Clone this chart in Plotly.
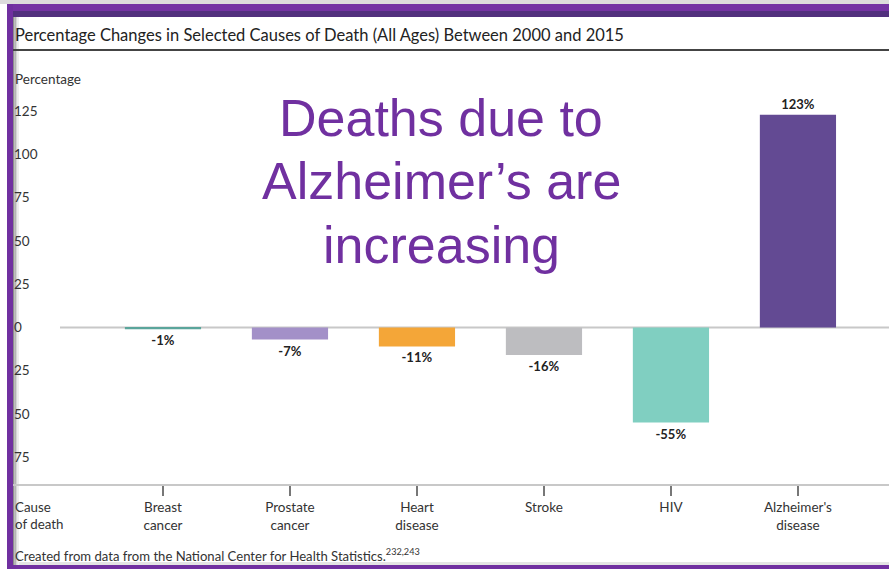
import plotly.graph_objects as go

# Data
causes = ["Breast<br>cancer", "Prostate<br>cancer", "Heart<br>disease", "Stroke", "HIV", "Alzheimer's<br>disease"]
pct_change = [-1, -7, -11, -16, -55, 123]
bar_colors = ["#5aa59b", "#a390c8", "#f4a638", "#bdbdc0", "#80cfc1", "#634a93"]
y_tick_vals = [125, 100, 75, 50, 25, 0, -25, -50, -75]
y_tick_text = ["125", "100", "75", "50", "25", "0", "25", "50", "75"]

W, H = 889, 569
ML, MR, MT, MB = 13, 0, 60, 85
PW, PH = W - ML - MR, H - MT - MB


def px_x(px):
    return (px - ML) / PW


def px_y(py):
    return (H - MB - py) / PH


FONT = "Lato, 'Open Sans', sans-serif"

fig = go.Figure()
fig.add_trace(go.Bar(
    x=causes,
    y=pct_change,
    marker=dict(color=bar_colors, line=dict(width=0)),
    width=0.6,
    text=[f"{v}%" for v in pct_change],
    textposition="outside",
    textfont=dict(family=FONT, size=13, color="#222222", weight="bold"),
    cliponaxis=False,
    hoverinfo="skip",
))

shapes = [
    # zero line
    dict(type="line", xref="paper", yref="y", x0=px_x(60), x1=1, y0=0, y1=0,
         line=dict(color="#c8c8c8", width=2), layer="below"),
    # rule under the title
    dict(type="line", xref="paper", yref="paper", x0=0, x1=1, y0=px_y(50), y1=px_y(50),
         line=dict(color="#444444", width=2), layer="above"),
    # top shadow
    dict(type="rect", xref="paper", yref="paper", x0=px_x(0), x1=1, y0=px_y(0), y1=px_y(4),
         fillcolor="#dcdcdc", line=dict(width=0), layer="above"),
    # top purple band
    dict(type="rect", xref="paper", yref="paper", x0=px_x(7), x1=1, y0=px_y(4), y1=px_y(11),
         fillcolor="#7433a3", line=dict(width=0), layer="above"),
    dict(type="rect", xref="paper", yref="paper", x0=px_x(7), x1=1, y0=px_y(11), y1=px_y(17),
         fillcolor="#52307e", line=dict(width=0), layer="above"),
    # bottom purple band
    dict(type="rect", xref="paper", yref="paper", x0=px_x(7), x1=1, y0=px_y(565), y1=px_y(569),
         fillcolor="#7030a0", line=dict(width=0), layer="above"),
    dict(type="rect", xref="paper", yref="paper", x0=px_x(13), x1=1, y0=px_y(562), y1=px_y(565),
         fillcolor="#e4e4e4", line=dict(width=0), layer="below"),
]
# soft shadow to the right of the left border
for x0, x1, c in [(13, 14.5, "#8e8e8e"), (14.5, 16, "#b4b4b4"), (16, 17.5, "#d6d6d6"), (17.5, 19, "#eeeeee")]:
    shapes.append(dict(type="rect", xref="paper", yref="paper", x0=px_x(x0), x1=px_x(x1),
                       y0=px_y(17), y1=px_y(565), fillcolor=c, line=dict(width=0), layer="below"))
# left purple border
shapes.append(dict(type="rect", xref="paper", yref="paper", x0=px_x(7), x1=px_x(13),
                   y0=px_y(4), y1=px_y(569), fillcolor="#7030a0", line=dict(width=0), layer="above"))

annotations = [
    dict(text="Percentage Changes in Selected Causes of Death (All Ages) Between 2000 and 2015",
         xref="paper", yref="paper", x=0, y=px_y(35), xanchor="left", yanchor="middle",
         showarrow=False, font=dict(family=FONT, size=16.5, color="#222222")),
    dict(text="Percentage", xref="paper", yref="paper", x=0, y=px_y(79), xanchor="left",
         yanchor="middle", showarrow=False, font=dict(family=FONT, size=13.5, color="#333333")),
    dict(text="Cause<br>of death", xref="paper", yref="paper", x=0, y=px_y(515), xanchor="left",
         yanchor="middle", align="left", showarrow=False,
         font=dict(family=FONT, size=13.3, color="#333333")),
    dict(text="Created from data from the National Center for Health Statistics.<sup>232,243</sup>",
         xref="paper", yref="paper", x=0, y=px_y(555), xanchor="left", yanchor="middle",
         showarrow=False, font=dict(family=FONT, size=13.1, color="#333333")),
]
for line, cy in [("Deaths due to", 118), ("Alzheimer’s are", 181), ("increasing", 245)]:
    annotations.append(dict(text=line, xref="paper", yref="paper", x=px_x(441), y=px_y(cy),
                            xanchor="center", yanchor="middle", showarrow=False,
                            font=dict(family="'Liberation Sans', Arial, sans-serif", size=52,
                                      color="#7030a0")))

fig.update_layout(
    width=W, height=H,
    margin=dict(l=ML, r=MR, t=MT, b=MB, pad=0),
    paper_bgcolor="white", plot_bgcolor="white",
    showlegend=False,
    bargap=0.4,
    shapes=shapes,
    annotations=annotations,
    xaxis=dict(
        range=[-1.181, 5.717], showgrid=False, zeroline=False,
        showline=True, linecolor="#c8c8c8", linewidth=2,
        ticks="outside", ticklen=10, tickwidth=1.5, tickcolor="#777777",
        tickfont=dict(family=FONT, size=13.5, color="#333333"),
        fixedrange=True,
    ),
    yaxis=dict(
        range=[-90.5, 154.6], showgrid=False, zeroline=False, showline=False,
        tickmode="array", tickvals=y_tick_vals, ticktext=y_tick_text,
        ticklabelposition="inside", ticks="", ticklabelstandoff=-2,
        tickfont=dict(family=FONT, size=13.5, color="#333333"),
        fixedrange=True,
    ),
)

fig.write_html("out.html", config={"displayModeBar": False})
